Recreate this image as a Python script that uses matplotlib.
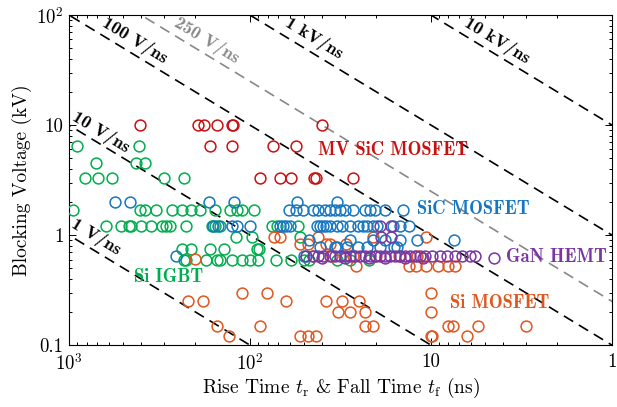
"""
Blocking voltage vs. rise/fall time of power semiconductor devices,
with constant dV/dt guide lines.
"""
import numpy as np
import matplotlib
matplotlib.use("Agg")
import matplotlib.pyplot as plt

plt.rcParams["font.family"] = "serif"
plt.rcParams["font.serif"] = ["cmr10"]
plt.rcParams["mathtext.fontset"] = "cm"
plt.rcParams["axes.unicode_minus"] = False

# --- dV/dt guide lines (V/ns) ---
RATES = [1, 10, 100, 250, 1000, 10000]
RATE_LABELS = ["1 V/ns", "10 V/ns", "100 V/ns", "250 V/ns", "1 kV/ns", "10 kV/ns"]
RATE_COLORS = ["black", "black", "black", "#888888", "black", "black"]

# --- device data: (blocking voltage kV, [rise/fall times ns]) ---
si_igbt = [
    (6.5, [906, 410]),
    (4.5, [709, 426, 380]),
    (3.3, [816, 694, 581, 298, 232]),
    (1.7, [955, 405, 380, 332, 270, 237, 212, 189, 156, 129, 118, 111, 95]),
    (1.2, [625, 515, 465, 455, 400, 350, 308, 290, 277, 226, 163, 156, 147, 76, 71, 54]),
    (0.97, [120, 97, 53]),
    (0.75, [237, 212, 166, 140, 92, 89]),
    (0.6, [232, 226, 175, 152, 147, 126, 111, 100, 90, 72, 59, 50, 47, 33, 28, 22]),
]
si_mosfet = [
    (0.97, [74, 68, 42, 21, 10.7]),
    (0.83, [53, 48, 38, 36, 29.5]),
    (0.65, [45, 35, 27, 20, 15, 12]),
    (0.61, [200]),
    (0.52, [26, 13.3, 12.1, 10.6, 9.1, 8.1, 7.4]),
    (0.3, [111, 81, 10]),
    (0.25, [219, 182, 63, 38, 31, 25]),
    (0.2, [32.5, 28, 23, 10]),
    (0.15, [152, 88, 23, 21, 8.1, 7.6, 5.5, 3.0]),
    (0.12, [130, 53, 48, 43, 10, 9.9, 6.3]),
]
sic_mosfet = [
    (2.0, [557, 460, 169, 122, 55, 33]),
    (1.7, [61, 56, 51, 45, 42, 38.5, 36, 34, 31.8, 29.7, 27, 23.2, 21.7, 20.3, 17.9, 14.3]),
    (1.2, [160, 150, 126, 118, 100, 68, 66, 63, 60, 42.5, 41, 39.5, 38, 36, 33, 31,
           28, 25.3, 23.8, 22.6, 20.9, 19.8, 16.3, 14.8, 13.3]),
    (0.9, [47, 28, 20.9, 17.9, 14.8, 12.0, 7.5]),
    (0.78, [41, 34, 33, 29, 25.3, 22.6, 19.1, 16.0, 15.5]),
    (0.65, [256, 50]),
]
mv_sic_mosfet = [
    (10, [405, 193, 180, 153, 126, 124, 40]),
    (6.5, [166, 126, 75, 56]),
    (3.3, [88, 68, 59, 44, 43, 27]),
]
gan_hemt = [
    (0.65, [49, 45, 42, 39.5, 36, 34, 32, 30, 28, 26.3, 24.7, 23.2, 21.7, 20.4, 19.1,
            17.9, 16.9, 15.8, 14.8, 13.9, 13.1, 12.3, 11.5, 10.8, 9.9, 8.9, 8.2, 7.4,
            6.7, 6.1, 5.7]),
    (0.62, [40, 30, 22, 18, 14, 11, 4.5]),
    (0.97, [18.8, 16.6]),
    (1.2, [19.1, 16.6]),
]

SERIES = [
    ("Si IGBT", si_igbt, "#00AD4E", (0.184, 0.206)),
    ("Si MOSFET", si_mosfet, "#E0561E", (0.794, 0.127)),
    ("SiC MOSFET", sic_mosfet, "#1576C2", (0.744, 0.412)),
    ("MV SiC MOSFET", mv_sic_mosfet, "#C81010", (0.597, 0.591)),
    ("GaN HEMT", gan_hemt, "#7B35A3", (0.897, 0.267)),
]

# label centres of the guide lines, in axes fraction
RATE_TEXT_POS = [(0.050, 0.327), (0.059, 0.645), (0.122, 0.924),
                 (0.254, 0.924), (0.451, 0.930), (0.788, 0.924)]


def flatten(rows):
    t = [ti for v, ts in rows for ti in ts]
    v = [v for v, ts in rows for _ in ts]
    return np.array(t, dtype=float), np.array(v, dtype=float)


fig = plt.figure(figsize=(6.17, 4.07), dpi=100)
ax = fig.add_axes([0.1118, 0.152, 0.880, 0.811])
ax.set_xscale("log")
ax.set_yscale("log")
ax.set_xlim(1000, 1)
ax.set_ylim(0.1, 100)

# guide lines V[kV] = rate[V/ns] * t[ns] / 1000
t_line = np.logspace(-1, 4, 200)
for rate, col in zip(RATES, RATE_COLORS):
    ax.plot(t_line, rate * t_line / 1000, color=col, linestyle=(0, (6.5, 4)),
            linewidth=1.2, zorder=1)

# text rotation matches the slope of the guide lines on screen
fig.canvas.draw()
p0 = ax.transData.transform((100, 1))
p1 = ax.transData.transform((10, 0.1))
angle = np.degrees(np.arctan2(p1[1] - p0[1], p1[0] - p0[0]))

for label, col, pos in zip(RATE_LABELS, RATE_COLORS, RATE_TEXT_POS):
    ax.text(pos[0], pos[1], label, transform=ax.transAxes, rotation=angle,
            rotation_mode="anchor", ha="center", va="center", color=col,
            fontsize=13, family="cmb10")

for name, rows, col, pos in SERIES:
    t, v = flatten(rows)
    ax.plot(t, v, linestyle="none", marker="o", markersize=7.8,
            markerfacecolor="none", markeredgecolor=col, markeredgewidth=1.1,
            zorder=3)
    ax.text(pos[0], pos[1], name, transform=ax.transAxes, ha="center",
            va="center", color=col, fontsize=13.3, family="cmb10", zorder=4)

ax.set_xticks([1000, 100, 10, 1])
ax.set_xticklabels([r"$10^3$", r"$10^2$", "10", "1"])
ax.set_yticks([0.1, 1, 10, 100])
ax.set_yticklabels(["0.1", "1", "10", r"$10^2$"])
ax.tick_params(which="both", direction="in", top=True, right=True,
               labelsize=13.5, width=0.7)
ax.tick_params(axis="x", which="major", pad=6)
ax.tick_params(axis="y", which="major", pad=4)
ax.tick_params(which="major", length=5)
ax.tick_params(which="minor", length=2.5)
for sp in ax.spines.values():
    sp.set_linewidth(0.8)

ax.set_xlabel(r"Rise Time $t_\mathrm{r}$ & Fall Time $t_\mathrm{f}$ (ns)",
              fontsize=14, labelpad=1)
ax.set_ylabel("Blocking Voltage (kV)", fontsize=14, labelpad=3)

fig.savefig("out.png", dpi=100)
